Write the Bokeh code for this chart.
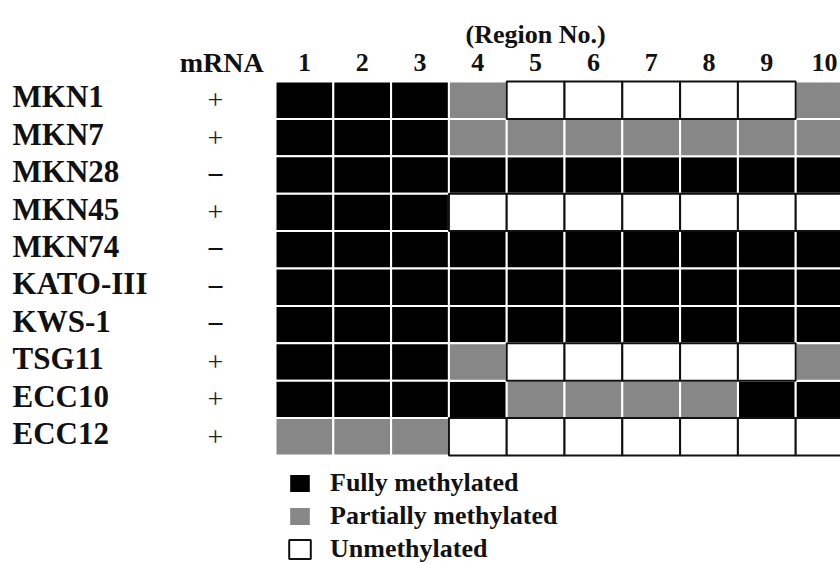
from bokeh.plotting import figure
from bokeh.models import ColumnDataSource, Range1d, Legend, LegendItem
from bokeh.core.properties import value
from bokeh.embed import file_html
from bokeh.resources import INLINE

# ---------------- data ----------------
cell_lines = ["MKN1", "MKN7", "MKN28", "MKN45", "MKN74",
              "KATO-III", "KWS-1", "TSG11", "ECC10", "ECC12"]
mrna = ["+", "+", "\u2212", "+", "\u2212", "\u2212", "\u2212", "+", "+", "+"]
regions = ["1", "2", "3", "4", "5", "6", "7", "8", "9", "10"]

# F = fully methylated, P = partially methylated, U = unmethylated
mkn1 = ["F", "F", "F", "P", "U", "U", "U", "U", "U", "P"]
mkn7 = ["F", "F", "F", "P", "P", "P", "P", "P", "P", "P"]
mkn28 = ["F", "F", "F", "F", "F", "F", "F", "F", "F", "F"]
mkn45 = ["F", "F", "F", "U", "U", "U", "U", "U", "U", "U"]
mkn74 = ["F", "F", "F", "F", "F", "F", "F", "F", "F", "F"]
kato3 = ["F", "F", "F", "F", "F", "F", "F", "F", "F", "F"]
kws1 = ["F", "F", "F", "F", "F", "F", "F", "F", "F", "F"]
tsg11 = ["F", "F", "F", "P", "U", "U", "U", "U", "U", "P"]
ecc10 = ["F", "F", "F", "F", "P", "P", "P", "P", "F", "F"]
ecc12 = ["P", "P", "P", "U", "U", "U", "U", "U", "U", "U"]
status_rows = [mkn1, mkn7, mkn28, mkn45, mkn74, kato3, kws1, tsg11, ecc10, ecc12]

status_codes = ["F", "P", "U"]
status_labels = ["Fully methylated", "Partially methylated", "Unmethylated"]

# ---------------- styles ----------------
fills = {"F": "#000000", "P": "#878787", "U": "#ffffff"}
lines = {"F": "#ffffff", "P": "#ffffff", "U": "#111111"}
FONT_NAME = "Liberation Serif"
FONT = value(FONT_NAME)

p = figure(width=840, height=563,
           x_range=Range1d(-4.258, 10.275), y_range=Range1d(12.388, -2.666),
           output_backend="svg", toolbar_location=None,
           x_axis_location=None, y_axis_location=None, min_border=0)
p.grid.visible = False
p.outline_line_color = None
p.background_fill_color = "white"

renderers = {}
for code in status_codes:
    xs, ys = [], []
    for r, row in enumerate(status_rows):
        for c, s in enumerate(row):
            if s == code:
                xs.append(c + 1)
                ys.append(r)
    src = ColumnDataSource(dict(x=xs, y=ys))
    renderers[code] = p.rect(x="x", y="y", width=1, height=1, source=src,
                             fill_color=fills[code], line_color=lines[code],
                             line_width=2)

# row labels
n = len(cell_lines)
p.text(x=[-4.05] * n, y=[r - 0.09 for r in range(n)], text=cell_lines,
       text_font=FONT, text_font_style="bold", text_font_size="31px",
       text_align="left", text_baseline="middle", text_color="#111111")

# mRNA column
plus_idx = [i for i, m in enumerate(mrna) if m == "+"]
minus_idx = [i for i, m in enumerate(mrna) if m != "+"]
p.text(x=[-0.54] * len(plus_idx), y=plus_idx, text=[mrna[i] for i in plus_idx],
       text_font=FONT, text_font_size="28px",
       text_align="center", text_baseline="middle", text_color="#222222")
p.text(x=[-0.54] * len(minus_idx), y=minus_idx, text=[mrna[i] for i in minus_idx],
       text_font=FONT, text_font_style="bold", text_font_size="30px",
       text_align="center", text_baseline="middle", text_color="#111111")
p.text(x=[-0.43], y=[-1.02], text=["mRNA"],
       text_font=FONT, text_font_style="bold", text_font_size="28px",
       text_align="center", text_baseline="middle", text_color="#111111")

# region numbers
p.text(x=list(range(1, len(regions) + 1)), y=[-0.995] * len(regions), text=regions,
       text_font=FONT, text_font_style="bold", text_font_size="26px",
       text_align="center", text_baseline="middle", text_color="#111111")
p.text(x=[5.0], y=[-1.76], text=["(Region No.)"],
       text_font=FONT, text_font_style="bold", text_font_size="26px",
       text_align="center", text_baseline="middle", text_color="#111111")

legend = Legend(items=[LegendItem(label=lab, renderers=[renderers[c]])
                       for c, lab in zip(status_codes, status_labels)],
                location=(286, -1), orientation="vertical",
                glyph_width=27, glyph_height=24, label_height=24,
                label_standoff=17, spacing=3, padding=0, margin=0,
                border_line_color=None, background_fill_alpha=0,
                label_text_font=FONT_NAME, label_text_font_style="bold",
                label_text_font_size="26px", label_text_color="#111111")
p.add_layout(legend, "center")

open("out.html", "w").write(file_html(p, INLINE))
